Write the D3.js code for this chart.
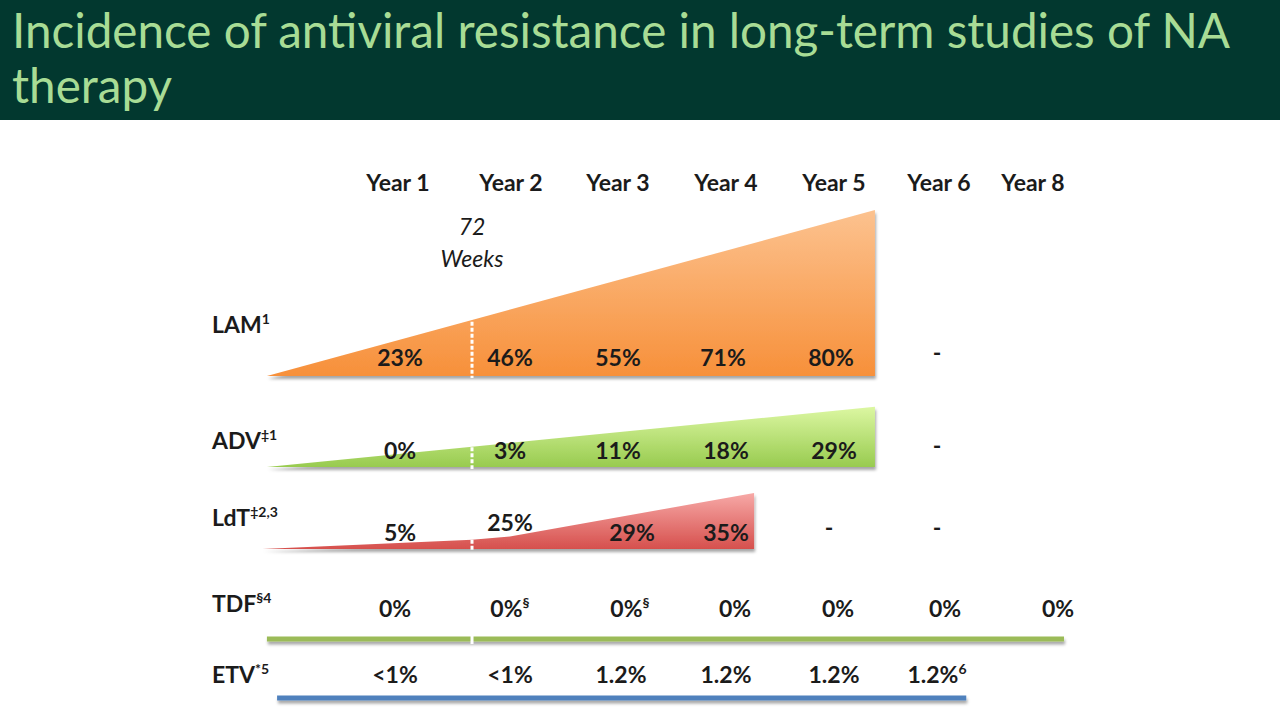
<!DOCTYPE html>
<html>
<head>
<meta charset="utf-8">
<script src="https://cdn.jsdelivr.net/npm/d3@7"></script>
<style>
  html, body { margin: 0; padding: 0; background: #ffffff; }
  svg { display: block; }
</style>
</head>
<body>
<div id="chart"></div>
<script>
// columns and rows of the table
var years = ["Year 1", "Year 2", "Year 3", "Year 4", "Year 5", "Year 6", "Year 8"];
var drugs = ["LAM", "ADV", "LdT", "TDF", "ETV"];
var drugRefs = ["1", "\u20211", "\u20212,3", "\u00a74", "*5"];

// resistance incidence per year, as printed
var lamValues = ["23%", "46%", "55%", "71%", "80%", "-", ""];
var advValues = ["0%", "3%", "11%", "18%", "29%", "-", ""];
var ldtValues = ["5%", "25%", "29%", "35%", "-", "-", ""];
var tdfValues = ["0%", "0%", "0%", "0%", "0%", "0%", "0%"];
var tdfNotes  = ["", "\u00a7", "\u00a7", "", "", "", ""];
var etvValues = ["<1%", "<1%", "1.2%", "1.2%", "1.2%", "1.2%", ""];
var etvNotes  = ["", "", "", "", "", "6", ""];

// wedge outlines: [column position, resistance level]
var lamWedge = [[-1.16, 0], [4.39, 80]];
var advWedge = [[-1.16, 0], [4.39, 29]];
var ldtWedge = [[-1.2, 0], [0.655, 4.5], [0.99, 6], [3.26, 27]];
// bars for TDF and ETV: [start, end] column position
var tdfSpan = [-1.16, 6.33];
var etvSpan = [-1.07, 5.29];
var week72 = 0.655;

var W = 1280, H = 720;
var svg = d3.select("#chart").append("svg")
  .attr("width", W).attr("height", H);

var defs = svg.append("defs");
var shadow = defs.append("filter").attr("id", "shadow")
  .attr("filterUnits", "userSpaceOnUse")
  .attr("x", 0).attr("y", 0).attr("width", W).attr("height", H);
shadow.append("feDropShadow")
  .attr("dx", 1).attr("dy", 3).attr("stdDeviation", 1.6)
  .attr("flood-color", "#000").attr("flood-opacity", 0.35);

function grad(id, top, bottom) {
  var g = defs.append("linearGradient").attr("id", id)
    .attr("x1", 0).attr("y1", 0).attr("x2", 0).attr("y2", 1);
  g.append("stop").attr("offset", "0%").attr("stop-color", top);
  g.append("stop").attr("offset", "100%").attr("stop-color", bottom);
}
grad("gLam", "#fcc28f", "#f7903a");
grad("gAdv", "#dcf7a2", "#98cb4f");
grad("gLdt", "#f7a9a7", "#d6504d");

// title band
svg.append("rect").attr("x", 0).attr("y", 0).attr("width", W).attr("height", 120)
  .attr("fill", "#02382f");
var title = svg.append("g").attr("font-family", "Lato").attr("font-size", 44)
  .attr("fill", "#a8dc95");
var t1 = title.append("text").attr("x", 12).attr("y", 48)
  .text("Incidence of antiviral resistance in long-term studies of NA");
title.append("text").attr("x", 12).attr("y", 103).text("therapy");
// fit first line to the band width
var len = t1.node().getComputedTextLength();
title.attr("font-size", 44 * 1218 / len);

// scales
var xCol = d3.scaleLinear()
  .domain([0, 1, 2, 3, 4, 5, 6])
  .range([398, 511, 618, 726, 834, 939, 1033]);
var valueX = d3.scaleOrdinal().domain(years)
  .range([400, 510, 618, 726, 834, 937, 1058]);
var yLevel = d3.scaleLinear().domain([0, 80]).range([0, 166]);

var rowBase = {LAM: 376, ADV: 467, LdT: 549, TDF: 639, ETV: 698};
var rowLabelY = {LAM: 333, ADV: 449, LdT: 526, TDF: 612, ETV: 683};
var rowValueY = {LAM: 366, ADV: 459, LdT: 541, TDF: 617, ETV: 683};

var font = "Lato";
var ink = "#1b1b1b";
var fs = 23;

// header
svg.append("g").selectAll("text")
  .data(years).enter().append("text")
    .attr("x", function(d, i) { return xCol(i); })
    .attr("y", 191)
    .attr("text-anchor", "middle")
    .attr("font-family", font).attr("font-weight", 700).attr("font-size", 23)
    .attr("fill", ink)
    .text(function(d) { return d; });

// 72 weeks note
var note = svg.append("text").attr("text-anchor", "middle")
  .attr("font-family", font).attr("font-style", "italic").attr("font-size", 23)
  .attr("fill", ink);
note.append("tspan").attr("x", xCol(week72)).attr("y", 235).text("72");
note.append("tspan").attr("x", xCol(week72)).attr("y", 267).text("Weeks");

// wedges
function wedge(points, base, fill) {
  var pts = points.map(function(p) { return [xCol(p[0]), base - yLevel(p[1])]; });
  var last = points[points.length - 1];
  pts.push([xCol(last[0]), base]);
  pts.push([xCol(points[0][0]), base]);
  svg.append("path")
    .attr("d", d3.line()(pts) + "Z")
    .attr("fill", "url(#" + fill + ")")
    .attr("filter", "url(#shadow)");
  // white dashed marker at 72 weeks
  var top = d3.scaleLinear()
    .domain(points.map(function(p) { return p[0]; }))
    .range(points.map(function(p) { return p[1]; }))(week72);
  svg.append("line")
    .attr("x1", xCol(week72)).attr("x2", xCol(week72))
    .attr("y1", base - yLevel(top)).attr("y2", base + 2)
    .attr("stroke", "#fff").attr("stroke-width", 3)
    .attr("stroke-dasharray", "4,2");
}
wedge(lamWedge, rowBase.LAM, "gLam");
wedge(advWedge, rowBase.ADV, "gAdv");
wedge(ldtWedge, rowBase.LdT, "gLdt");

// flat bars
function bar(span, base, color, gap) {
  svg.append("rect")
    .attr("x", xCol(span[0])).attr("width", xCol(span[1]) - xCol(span[0]))
    .attr("y", base - 2.5).attr("height", 5)
    .attr("fill", color)
    .attr("filter", "url(#shadow)");
  if (gap) {
    svg.append("rect")
      .attr("x", xCol(week72) - 1.5).attr("width", 3)
      .attr("y", base - 4).attr("height", 9)
      .attr("fill", "#fff");
  }
}
bar(tdfSpan, rowBase.TDF, "#9bbb59", true);
bar(etvSpan, rowBase.ETV, "#4f81bd", false);

// row labels
drugs.forEach(function(d, i) {
  var t = svg.append("text")
    .attr("x", 212).attr("y", rowLabelY[d])
    .attr("font-family", font).attr("font-weight", 700).attr("font-size", fs)
    .attr("fill", ink);
  t.append("tspan").text(d);
  t.append("tspan").attr("font-size", 14).attr("dy", -9).text(drugRefs[i]);
});

// values (a few cells sit off their column in the original slide)
var nudge = {
  "LAM|Year 4": -3, "LAM|Year 5": -3,
  "LdT|Year 3": 14, "LdT|Year 5": -5,
  "TDF|Year 1": -5, "TDF|Year 3": 12, "TDF|Year 4": 9, "TDF|Year 5": 4, "TDF|Year 6": 8,
  "ETV|Year 1": -5, "ETV|Year 3": 3
};
function values(row, vals, notes) {
  vals.forEach(function(v, i) {
    if (!v) return;
    var key = row + "|" + years[i];
    var dy = key === "LdT|Year 2" ? -10 : 0;
    var t = svg.append("text")
      .attr("x", valueX(years[i]) + (nudge[key] || 0))
      .attr("y", rowValueY[row] + dy + (v === "-" ? -5 : 0))
      .attr("text-anchor", "middle")
      .attr("font-family", font).attr("font-weight", 700).attr("font-size", fs)
      .attr("fill", ink);
    t.append("tspan").text(v);
    if (notes && notes[i]) {
      t.append("tspan").attr("font-size", 14).attr("dy", -9).text(notes[i]);
    }
  });
}
values("LAM", lamValues);
values("ADV", advValues);
values("LdT", ldtValues);
values("TDF", tdfValues, tdfNotes);
values("ETV", etvValues, etvNotes);
</script>
</body>
</html>
